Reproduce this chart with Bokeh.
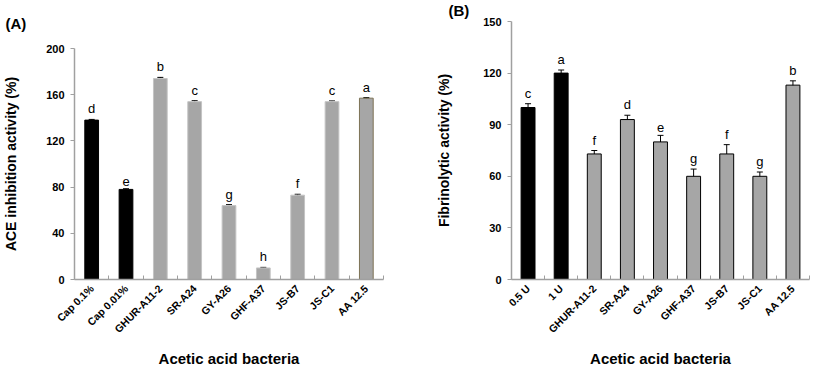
import math
from bokeh.plotting import figure
from bokeh.layouts import row, column
from bokeh.models import (ColumnDataSource, Range1d, FixedTicker, Whisker, TeeHead, Title)
from bokeh.core.properties import value
from bokeh.embed import file_html
from bokeh.resources import INLINE

# ---- data ----
cats_a = ["Cap 0.1%", "Cap 0.01%", "GHUR-A11-2", "SR-A24", "GY-A26", "GHF-A37", "JS-B7", "JS-C1", "AA 12.5"]
vals_a = [138, 78, 174, 154, 64, 10, 73, 154, 157]
err_a = [0.6, 0.6, 1.0, 0.8, 0.8, 0.5, 0.8, 0.6, 0.5]
letters_a = ["d", "e", "b", "c", "g", "h", "f", "c", "a"]
fill_a = ["#000000", "#000000"] + ["#a6a6a6"] * 7
edge_a = ["#000000", "#000000"] + ["#c4c4c4"] * 6 + ["#7d7255"]
yticks_a = [0, 40, 80, 120, 160, 200]

cats_b = ["0.5 U", "1 U", "GHUR-A11-2", "SR-A24", "GY-A26", "GHF-A37", "JS-B7", "JS-C1", "AA 12.5"]
vals_b = [100, 120, 73, 93, 80, 60, 73, 60, 113]
err_b = [2.2, 1.8, 2.0, 2.5, 3.8, 4.2, 5.4, 2.5, 2.5]
letters_b = ["c", "a", "f", "d", "e", "g", "f", "g", "b"]
fill_b = ["#000000", "#000000"] + ["#a6a6a6"] * 7
edge_b = ["#000000"] * 9
yticks_b = [0, 30, 60, 90, 120, 150]

FONT = "Liberation Sans"
AXIS_COLOR = "#a0a0a0"
H = 370
BOTTOM = H - 280


def make_panel(cats, vals, errs, letters, fills, edges, yticks, ymax, ylabel, tag,
               width, border_left, border_right, border_top, tag_offset, tag_standoff,
               ylabel_standoff, bar_w):
    n = len(cats)
    centers = [i + 0.5 for i in range(n)]
    src = ColumnDataSource(dict(
        x=centers, top=vals, upper=[v + e for v, e in zip(vals, errs)],
        lower=[v - e for v, e in zip(vals, errs)], lab=letters, fill=fills, edge=edges))
    p = figure(width=width, height=H, output_backend="svg", toolbar_location=None,
               x_range=Range1d(0, n), y_range=Range1d(0, ymax),
               min_border_left=border_left, min_border_right=border_right,
               min_border_top=border_top, min_border_bottom=BOTTOM)
    p.outline_line_color = None
    p.xgrid.visible = False
    p.ygrid.visible = False
    p.background_fill_color = "white"
    p.border_fill_color = "white"

    p.vbar(x="x", top="top", width=bar_w, bottom=0, fill_color="fill",
           line_color="edge", line_width=1, source=src)
    w = Whisker(base="x", upper="upper", lower="lower", source=src, line_color="black",
                line_width=1,
                upper_head=TeeHead(size=6, line_color="black", line_width=1),
                lower_head=TeeHead(size=6, line_color="black", line_width=1))
    p.add_layout(w)
    p.text(x="x", y="upper", text="lab", source=src, text_align="center",
           text_baseline="bottom", y_offset=-3, text_font=value(FONT),
           text_font_size="13px", text_color="black")

    xa = p.xaxis[0]
    xa.ticker = FixedTicker(ticks=centers, minor_ticks=list(range(n + 1)))
    xa.major_label_overrides = {c: name for c, name in zip(centers, cats)}
    xa.major_label_orientation = math.pi / 4
    xa.major_tick_in = 0
    xa.major_tick_out = 0
    xa.minor_tick_in = 4
    xa.minor_tick_out = 0
    xa.minor_tick_line_color = AXIS_COLOR
    xa.axis_line_color = AXIS_COLOR
    xa.axis_line_width = 1.5
    xa.major_label_text_font = FONT
    xa.major_label_text_font_style = "bold"
    xa.major_label_text_font_size = "10.5px"
    xa.major_label_text_color = "black"
    xa.major_label_standoff = 7
    xa.axis_label = "Acetic acid bacteria"
    xa.axis_label_text_font = FONT
    xa.axis_label_text_font_style = "bold"
    xa.axis_label_text_font_size = "15px"
    xa.axis_label_text_color = "black"
    xa.axis_label_standoff = 8

    ya = p.yaxis[0]
    ya.ticker = FixedTicker(ticks=yticks)
    ya.major_tick_in = 0
    ya.major_tick_out = 4
    ya.major_tick_line_color = AXIS_COLOR
    ya.minor_tick_line_color = None
    ya.axis_line_color = AXIS_COLOR
    ya.axis_line_width = 1.5
    ya.major_label_text_font = FONT
    ya.major_label_text_font_style = "bold"
    ya.major_label_text_font_size = "11px"
    ya.major_label_text_color = "black"
    ya.major_label_standoff = 6
    ya.axis_label = ylabel
    ya.axis_label_text_font = FONT
    ya.axis_label_text_font_style = "bold"
    ya.axis_label_text_font_size = "14px"
    ya.axis_label_text_color = "black"
    ya.axis_label_standoff = ylabel_standoff

    p.add_layout(Title(text=tag, align="left", offset=tag_offset, standoff=tag_standoff,
                       vertical_align="top",
                       text_font=FONT, text_font_style="bold", text_font_size="15px",
                       text_color="black"), "above")
    return p


pa = make_panel(cats_a, vals_a, err_a, letters_a, fill_a, edge_a, yticks_a, 200,
                "ACE inhibition activity (%)", "(A)", width=422, border_left=69,
                border_right=39, border_top=48, tag_offset=-69, tag_standoff=29,
                ylabel_standoff=24, bar_w=0.4)
pb = make_panel(cats_b, vals_b, err_b, letters_b, fill_b, edge_b, yticks_b, 150,
                "Fibrinolytic activity (%)", "(B)", width=389, border_left=89,
                border_right=2, border_top=20, tag_offset=-63, tag_standoff=2,
                ylabel_standoff=28, bar_w=0.42)

layout = row(column(pa), column(pb))
open("out.html", "w").write(file_html(layout, INLINE))
